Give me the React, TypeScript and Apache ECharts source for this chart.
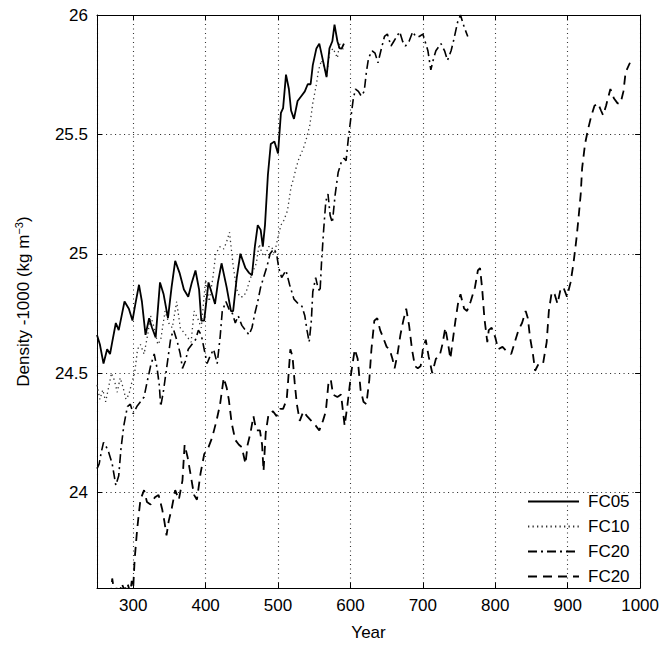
import React, { useEffect, useRef } from 'react';
import * as echarts from 'echarts';

// ---- Data ----
const fc05Year = [250, 254, 259, 264, 268, 271, 276, 280, 284, 288, 294, 299, 303, 308, 312, 317, 322, 326, 331, 337, 342, 348, 353, 358, 364, 370, 376, 381, 386, 391, 394, 398, 404, 409, 413, 417, 422, 429, 435, 438, 443, 448, 455, 460, 464, 468, 472, 476, 479, 482, 486, 490, 495, 500, 504, 507, 511, 515, 518, 522, 527, 532, 537, 541, 545, 548, 553, 557, 562, 567, 571, 575, 578, 582, 585, 588, 591];
const fc05Density = [24.66, 24.62, 24.54, 24.6, 24.58, 24.63, 24.71, 24.68, 24.74, 24.8, 24.77, 24.72, 24.79, 24.87, 24.8, 24.66, 24.73, 24.69, 24.65, 24.88, 24.83, 24.73, 24.86, 24.97, 24.92, 24.85, 24.82, 24.88, 24.93, 24.85, 24.72, 24.72, 24.88, 24.83, 24.79, 24.88, 24.96, 24.86, 24.76, 24.76, 24.9, 25.0, 24.94, 24.92, 24.91, 25.03, 25.12, 25.1, 25.03, 25.12, 25.33, 25.46, 25.47, 25.42, 25.59, 25.61, 25.75, 25.69, 25.6, 25.565, 25.64, 25.66, 25.68, 25.71, 25.71, 25.79, 25.86, 25.88, 25.81, 25.74, 25.86, 25.89, 25.96, 25.89, 25.86, 25.86, 25.88];

const fc10Year = [250, 254, 258, 262, 266, 270, 274, 278, 282, 286, 290, 294, 298, 302, 306, 310, 315, 320, 324, 329, 334, 338, 344, 349, 354, 360, 365, 370, 375, 380, 384, 389, 394, 400, 405, 410, 414, 420, 425, 429, 433, 438, 443, 447, 452, 456, 461, 466, 470, 474, 478, 482, 487, 491, 495, 500, 504, 508, 513, 518, 521, 525, 529, 532, 536, 539, 544, 548, 553, 556, 560, 564, 567, 571, 576, 579, 582, 585, 588, 590];
const fc10Density = [24.45, 24.39, 24.43, 24.38, 24.44, 24.5, 24.47, 24.42, 24.48, 24.44, 24.39, 24.41, 24.46, 24.5, 24.6, 24.62, 24.58, 24.66, 24.74, 24.69, 24.62, 24.64, 24.76, 24.71, 24.69, 24.8, 24.69, 24.67, 24.65, 24.63, 24.76, 24.73, 24.69, 24.89, 24.8, 24.9, 25.0, 25.03, 25.02, 25.05, 25.09, 24.95, 24.85, 24.82, 24.82, 24.84, 24.89, 24.93, 24.96, 25.04, 25.0, 24.99, 25.03, 25.03, 25.0, 25.07, 25.12, 25.14, 25.18, 25.28, 25.31, 25.36, 25.4, 25.42, 25.45, 25.48, 25.54, 25.63, 25.71, 25.77, 25.81, 25.78, 25.74, 25.84, 25.86, 25.84, 25.82, 25.88, 25.85, 25.86];

const fc20aYear = [250, 253, 256, 259, 263, 266, 271, 276, 280, 283, 287, 292, 296, 300, 305, 310, 315, 319, 324, 329, 333, 336, 338, 342, 347, 352, 356, 361, 365, 368, 372, 376, 381, 386, 390, 394, 398, 402, 406, 411, 416, 420, 423, 428, 432, 437, 441, 445, 450, 455, 460, 464, 468, 472, 476, 480, 485, 489, 494, 498, 501, 505, 511, 516, 522, 528, 533, 537, 540, 543, 546, 548, 552, 555, 558, 560, 563, 566, 569, 572, 575, 579, 583, 587, 591, 594, 597, 601, 604, 607, 611, 615, 619, 622, 625, 630, 634, 638, 642, 647, 651, 656, 660, 664, 668, 672, 676, 681, 686, 690, 695, 700, 704, 707, 711, 715, 718, 725, 730, 734, 739, 743, 748, 752, 757, 762];
const fc20aDensity = [24.1, 24.12, 24.17, 24.21, 24.19, 24.17, 24.12, 24.03, 24.07, 24.18, 24.28, 24.36, 24.37, 24.33, 24.36, 24.38, 24.4, 24.46, 24.53, 24.58, 24.52, 24.45, 24.36, 24.43, 24.54, 24.65, 24.68, 24.63, 24.58, 24.52, 24.55, 24.6, 24.62, 24.64, 24.68, 24.66, 24.6, 24.54, 24.57, 24.6, 24.54, 24.65, 24.76, 24.8, 24.77, 24.75, 24.71, 24.74, 24.7, 24.68, 24.66, 24.69, 24.75, 24.8, 24.86, 24.9, 24.95, 25.0, 25.02, 25.0, 24.94, 24.9, 24.93, 24.87, 24.81, 24.79, 24.78, 24.74, 24.68, 24.63, 24.72, 24.84, 24.9, 24.86, 24.84, 24.96, 25.1, 25.22, 25.25, 25.16, 25.13, 25.25, 25.34, 25.38, 25.4, 25.39, 25.48, 25.58, 25.65, 25.69, 25.68, 25.66, 25.68, 25.76, 25.82, 25.85, 25.84, 25.8, 25.85, 25.91, 25.92, 25.87, 25.89, 25.91, 25.93, 25.89, 25.87, 25.89, 25.93, 25.91, 25.91, 25.92, 25.88, 25.85, 25.77, 25.82, 25.85, 25.88, 25.85, 25.81, 25.85, 25.9, 25.97, 26.0, 25.95, 25.91];

const fc20bYear = [268, 271, 274, 277, 281, 284, 288, 292, 296, 298, 300, 302, 305, 307, 310, 315, 319, 324, 330, 335, 340, 343, 346, 349, 353, 358, 363, 368, 371, 375, 379, 384, 388, 393, 398, 404, 409, 415, 420, 425, 429, 432, 436, 441, 446, 450, 455, 458, 462, 466, 470, 475, 478, 480, 483, 487, 493, 498, 503, 507, 512, 514, 517, 520, 523, 526, 530, 535, 540, 546, 552, 557, 562, 566, 570, 573, 576, 582, 587, 592, 596, 601, 606, 610, 614, 618, 622, 626, 629, 633, 637, 641, 645, 650, 654, 658, 661, 665, 669, 673, 677, 681, 685, 689, 693, 697, 700, 704, 708, 713, 718, 723, 727, 731, 735, 738, 741, 745, 749, 752, 757, 761, 766, 772, 776, 779, 782, 785, 789, 791, 795, 800, 804, 810, 816, 822, 827, 832, 837, 842, 845, 848, 852, 855, 860, 866, 871, 874, 878, 882, 886, 890, 894, 899, 904, 908, 912, 915, 918, 920, 924, 928, 932, 937, 942, 946, 949, 953, 959, 964, 969, 973, 977, 980, 986];
const fc20bDensity = [23.5, 23.64, 23.58, 23.6, 23.57, 23.62, 23.59, 23.62, 23.58, 23.63, 23.6, 23.72, 23.83, 23.89, 23.97, 24.01, 23.96, 23.95, 23.98, 23.99, 23.93, 23.88, 23.82, 23.88, 23.93, 24.01, 23.97, 24.05, 24.2, 24.15, 24.08, 23.99, 23.97, 24.08, 24.16, 24.19, 24.23, 24.3, 24.37, 24.48, 24.44, 24.39, 24.29, 24.22, 24.2, 24.19, 24.12, 24.2, 24.25, 24.32, 24.26, 24.26, 24.2, 24.09, 24.25, 24.33, 24.34, 24.32, 24.35, 24.35, 24.39, 24.47, 24.6, 24.57, 24.46, 24.37, 24.3, 24.34, 24.32, 24.3, 24.28, 24.26, 24.3, 24.34, 24.47, 24.47, 24.41, 24.4, 24.41, 24.28, 24.37, 24.5, 24.6, 24.56, 24.43, 24.38, 24.37, 24.47, 24.6, 24.72, 24.73, 24.68, 24.65, 24.61, 24.6, 24.56, 24.52, 24.58, 24.66, 24.72, 24.77, 24.7, 24.6, 24.53, 24.52, 24.53, 24.6, 24.64, 24.57, 24.5, 24.56, 24.57, 24.62, 24.69, 24.62, 24.56, 24.63, 24.72, 24.8, 24.83, 24.77, 24.76, 24.8, 24.86, 24.93, 24.94, 24.85, 24.73, 24.63, 24.68, 24.69, 24.65, 24.6, 24.61, 24.59, 24.58, 24.63, 24.68, 24.71, 24.76, 24.73, 24.65, 24.58, 24.51, 24.54, 24.54, 24.63, 24.76, 24.84, 24.83, 24.79, 24.85, 24.86, 24.82, 24.88, 24.96, 25.06, 25.15, 25.25, 25.36, 25.46, 25.52, 25.57, 25.62, 25.63, 25.6, 25.58, 25.62, 25.69, 25.65, 25.63, 25.63, 25.68, 25.76, 25.8];

const seriesNames = ['FC05', 'FC10', 'FC20 dash-dot', 'FC20 dashed'];
const legendLabels = ['FC05', 'FC10', 'FC20', 'FC20'];
const xTickValues = [300, 400, 500, 600, 700, 800, 900, 1000];
const yTickValues = [24, 24.5, 25, 25.5, 26];
const xRange = [250, 1000];
const yRange = [23.6, 26];

const FONT = '"Liberation Sans", Arial, Helvetica, sans-serif';

export default function App() {
  const ref = useRef<HTMLDivElement>(null);
  useEffect(() => {
    if (!ref.current) return;
    const chart = echarts.init(ref.current, null, { renderer: 'svg' });
    const years = [fc05Year, fc10Year, fc20aYear, fc20bYear];
    const dens = [fc05Density, fc10Density, fc20aDensity, fc20bDensity];
    const styles: any[] = [
      { color: '#000', width: 1.8, type: 'solid' },
      { color: '#333', width: 1.3, type: [1.3, 3.2] },
      { color: '#000', width: 1.6, type: [9, 4, 2, 4] },
      { color: '#000', width: 1.8, type: [9, 6] },
    ];
    const series = seriesNames.map((name, i) => ({
      name,
      type: 'line',
      data: years[i].map((x, j) => [x, dens[i][j]]),
      symbol: 'none',
      showSymbol: false,
      clip: true,
      lineStyle: styles[i],
      itemStyle: { color: styles[i].color },
      z: 10 - i,
    }));
    const xStep = xTickValues[1] - xTickValues[0];
    const yStep = yTickValues[1] - yTickValues[0];
    const gridLine = { show: true, lineStyle: { color: '#333', width: 1.1, type: [1.1, 3.4] } };
    const labelStyle = { fontSize: 17, color: '#000', fontFamily: FONT };
    const baseX = {
      type: 'value', min: xRange[0], max: xRange[1], minInterval: xStep, maxInterval: xStep,
      axisLine: { show: true, onZero: false, lineStyle: { color: '#000', width: 1 } },
      axisTick: { show: true, inside: true, length: 5, lineStyle: { color: '#000' } },
    };
    const baseY = {
      type: 'value', min: yRange[0], max: yRange[1], minInterval: yStep, maxInterval: yStep,
      axisLine: { show: true, onZero: false, lineStyle: { color: '#000', width: 1 } },
      axisTick: { show: true, inside: true, length: 5, lineStyle: { color: '#000' } },
    };
    chart.setOption({
      animation: false,
      backgroundColor: '#fff',
      grid: { left: 97, right: 19, top: 15, bottom: 62, containLabel: false },
      legend: {
        orient: 'vertical',
        left: 527,
        top: 493,
        padding: 0,
        itemWidth: 51,
        itemHeight: 14,
        itemGap: 8,
        data: seriesNames,
        formatter: (n: string) => legendLabels[seriesNames.indexOf(n)],
        textStyle: { ...labelStyle, padding: [0, 0, 0, 4] },
        itemStyle: { opacity: 0, borderWidth: 0 },
        selectedMode: false,
      },
      xAxis: [
        {
          ...baseX,
          position: 'bottom',
          name: 'Year',
          nameLocation: 'middle',
          nameGap: 36,
          nameTextStyle: labelStyle,
          axisLabel: {
            ...labelStyle,
            margin: 9,
            showMinLabel: false,
            formatter: (v: number) => (xTickValues.includes(v) ? String(v) : ''),
          },
          splitLine: gridLine,
        },
        {
          ...baseX,
          position: 'top',
          axisLabel: { show: false },
          splitLine: { show: false },
        },
      ],
      yAxis: [
        {
          ...baseY,
          position: 'left',
          name: 'Density -1000 (kg m{sup|−3})',
          nameLocation: 'middle',
          nameGap: 64,
          nameTextStyle: {
            ...labelStyle,
            lineHeight: 20,
            rich: { sup: { fontSize: 11, color: '#000', fontFamily: FONT, verticalAlign: 'top' } },
          },
          axisLabel: {
            ...labelStyle,
            margin: 9,
            showMinLabel: false,
            formatter: (v: number) => (yTickValues.some((t) => Math.abs(t - v) < 1e-6) ? String(v) : ''),
          },
          splitLine: gridLine,
        },
        {
          ...baseY,
          position: 'right',
          axisLabel: { show: false },
          splitLine: { show: false },
        },
      ],
      series,
    });
    return () => chart.dispose();
  }, []);
  return <div ref={ref} style={{ position: 'fixed', left: 0, top: 0, width: 662, height: 650 }} />;
}
